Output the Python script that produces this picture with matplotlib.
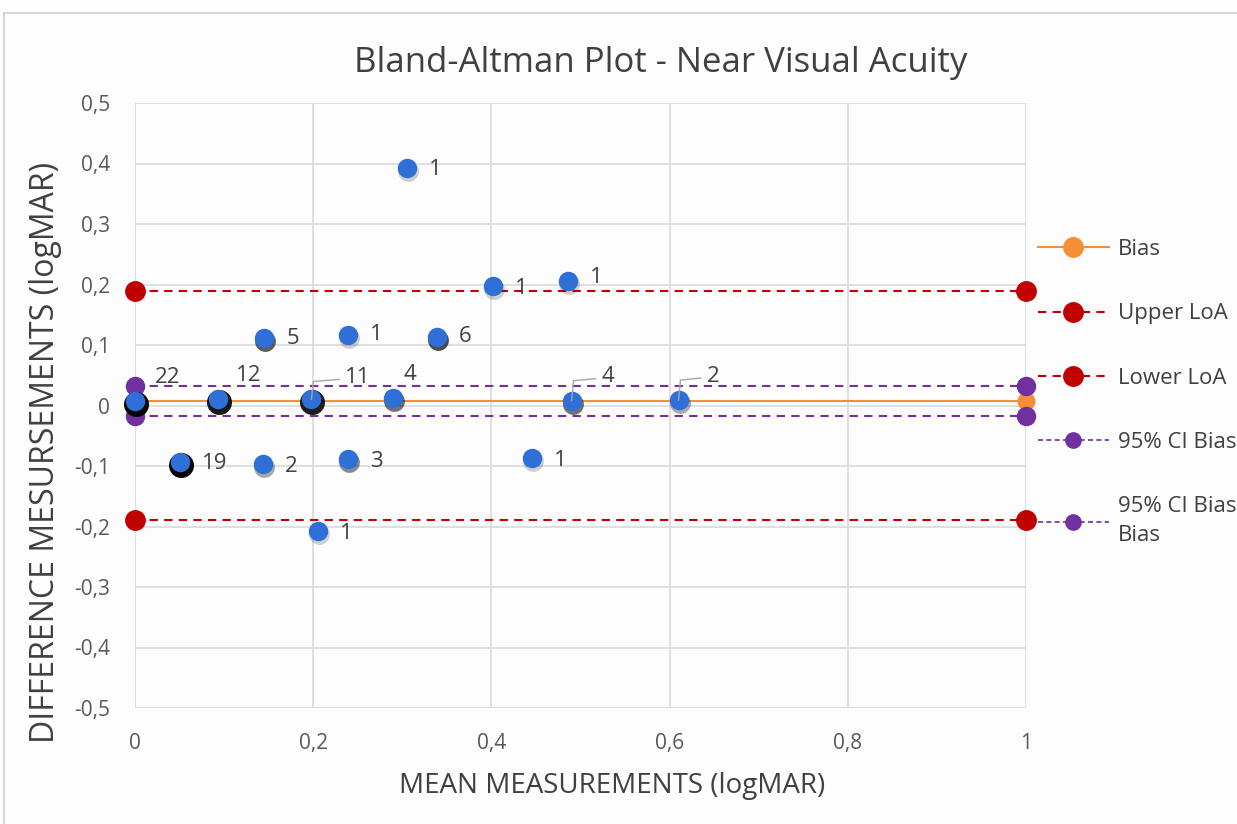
import numpy as np
import matplotlib.pyplot as plt
from matplotlib.lines import Line2D
from matplotlib.transforms import offset_copy
from matplotlib.ticker import FuncFormatter

plt.rcParams['font.family'] = ['Open Sans', 'DejaVu Sans']

# data
mean_vals = [0.0, 0.093, 0.198, 0.29, 0.49, 0.61, 0.05, 0.144, 0.239, 0.446,
             0.205, 0.305, 0.402, 0.486, 0.145, 0.239, 0.339]
diff_vals = [0.007, 0.01, 0.01, 0.012, 0.008, 0.009, -0.093, -0.097, -0.089, -0.087,
             -0.208, 0.393, 0.197, 0.205, 0.111, 0.117, 0.114]
counts = [22, 12, 11, 4, 4, 2, 19, 2, 3, 1, 1, 1, 1, 1, 5, 1, 6]

bias = 0.007
upper_loa = 0.19
lower_loa = -0.19
ci_upper = 0.032
ci_lower = -0.018
line_x = [0, 1]

# label placement (pixel offsets) and which labels use leader lines
label_off = [(20, 24), (18, 24), (34, 22), (10, 24), (30, 24), (28, 24), (22, -2), (22, -2),
             (22, -2), (22, -2), (22, -2), (22, -2), (22, -2), (22, 4), (22, 0), (22, 0), (22, 0)]
leader = [False, False, True, False, True, True] + [False] * 11

blue = '#2E6FD8'
orange = '#F58F35'
red = '#C00000'
purple = '#7030A0'
txt = '#404040'

fig = plt.figure(figsize=(12.37, 8.24), dpi=100)
fig.patch.set_facecolor('#FDFDFD')
ax = fig.add_axes([135 / 1237, 1 - 708 / 824, 891 / 1237, 605 / 824])
ax.set_facecolor('#FDFDFD')

ax.set_xlim(0, 1)
ax.set_ylim(-0.5, 0.5)
ax.set_xticks(np.arange(0, 1.01, 0.2))
ax.set_yticks(np.arange(-0.5, 0.51, 0.1))


def comma(v, p):
    v = round(v, 2)
    if v == 0:
        return '0'
    return ('%g' % v).replace('.', ',')


ax.xaxis.set_major_formatter(FuncFormatter(comma))
ax.yaxis.set_major_formatter(FuncFormatter(comma))
ax.grid(True, color='#D9D9D9', lw=1.2)
ax.set_axisbelow(True)
for s in ax.spines.values():
    s.set_visible(False)
ax.tick_params(length=0, labelsize=15, labelcolor='#595959')
ax.tick_params(axis='x', pad=18)
ax.tick_params(axis='y', pad=18)

# reference lines
ax.plot(line_x, [bias, bias], color=orange, lw=1.5, marker='o', ms=12, zorder=3, clip_on=False)
ax.plot(line_x, [upper_loa, upper_loa], color=red, lw=1.5, ls=(0, (4, 3)), marker='o', ms=14,
        zorder=3, clip_on=False)
ax.plot(line_x, [lower_loa, lower_loa], color=red, lw=1.5, ls=(0, (4, 3)), marker='o', ms=14,
        zorder=3, clip_on=False)
ax.plot(line_x, [ci_upper, ci_upper], color=purple, lw=1.5, ls=(0, (4, 3)), marker='o', ms=13,
        zorder=3, clip_on=False)
ax.plot(line_x, [ci_lower, ci_lower], color=purple, lw=1.5, ls=(0, (4, 3)), marker='o', ms=13,
        zorder=3, clip_on=False)

# shadows, darker where many observations overlap
shadow_tr = offset_copy(ax.transData, fig=fig, x=1, y=-3, units='dots')
for x, y, n in zip(mean_vals, diff_vals, counts):
    a = 1 - (1 - 0.18) ** n
    ax.plot(x, y, 'o', ms=18 if n > 8 else 15, color='black', alpha=a, mec='none',
            transform=shadow_tr, zorder=4, clip_on=False)
ax.plot(mean_vals, diff_vals, 'o', ms=14, color=blue, mec='none', ls='none', zorder=5, clip_on=False)

for x, y, n, off, ld in zip(mean_vals, diff_vals, counts, label_off, leader):
    ax.annotate(str(n), (x, y), xytext=off, textcoords='offset pixels', fontsize=16,
                color=txt, va='center', ha='left', zorder=6)
    if ld:
        xp, yp = ax.transData.transform((x, y))
        pts = np.array([[xp, yp], [xp + 2, yp + off[1] - 4], [xp + off[0] - 6, yp + off[1] - 2]])
        dp = ax.transData.inverted().transform(pts)
        ax.plot(dp[:, 0], dp[:, 1], color='#A6A6A6', lw=1, zorder=6)

ax.set_title('Bland-Altman Plot - Near Visual Acuity', fontsize=25, color=txt, pad=22, x=0.59)
ax.set_xlabel('MEAN MEASUREMENTS (logMAR)', fontsize=20, color=txt, labelpad=13)
ax.xaxis.label.set_x(0.535)
ax.set_ylabel('DIFFERENCE MESURSEMENTS (logMAR)', fontsize=23, color=txt, labelpad=10)
ax.yaxis.set_label_coords(-0.082, 0.423)

handles = [
    Line2D([], [], color=orange, lw=1.5, marker='o', ms=14),
    Line2D([], [], color=red, lw=1.5, ls=(0, (4, 3)), marker='o', ms=14),
    Line2D([], [], color=red, lw=1.5, ls=(0, (4, 3)), marker='o', ms=14),
    Line2D([], [], color=purple, lw=1.2, ls=(0, (3, 2)), marker='o', ms=11),
    Line2D([], [], color=purple, lw=1.2, ls=(0, (3, 2)), marker='o', ms=11),
]
labels = ['Bias', 'Upper LoA', 'Lower LoA', '95% CI Bias', '95% CI Bias\nBias']
leg = ax.legend(handles, labels, loc='upper left', bbox_to_anchor=(1.013, 0.775), frameon=False,
                fontsize=16, handlelength=3.2, handletextpad=0.4, labelspacing=1.95,
                borderpad=0, borderaxespad=0, labelcolor=txt)
leg.get_texts()[-1].set_linespacing(1.5)

# outer chart border
fig.add_artist(Line2D([4 / 1237, 1], [1 - 13 / 824, 1 - 13 / 824], color='#D0D0D0', lw=1.2))
fig.add_artist(Line2D([4 / 1237, 4 / 1237], [0, 1 - 13 / 824], color='#D0D0D0', lw=1.2))

fig.savefig('out.png', dpi=100, facecolor=fig.get_facecolor())
